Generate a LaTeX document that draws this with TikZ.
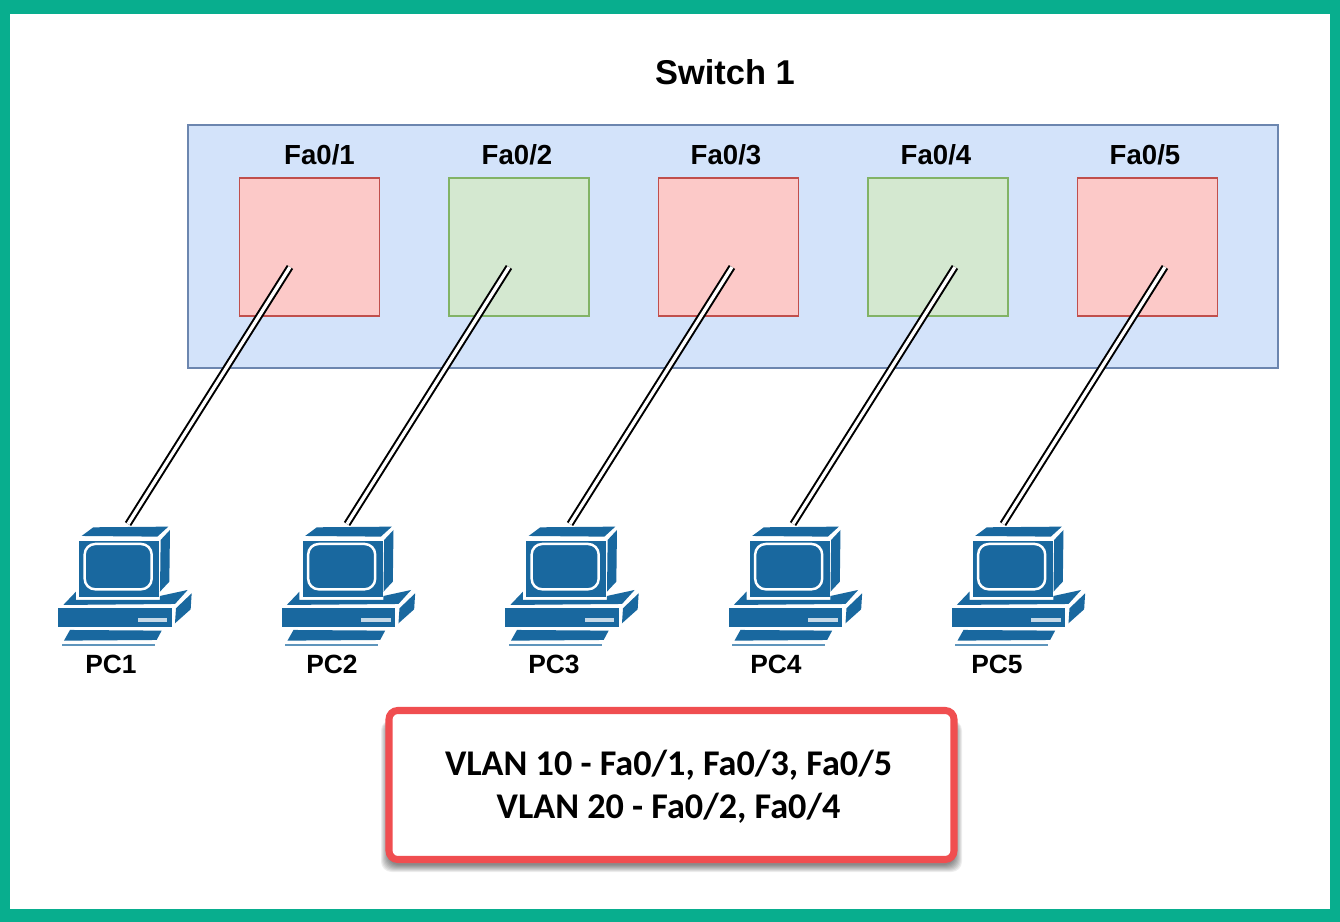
\documentclass[tikz,border=0pt]{standalone}
\usepackage{fontspec}
\setmainfont{Liberation Sans}
\newfontfamily\vlanfont{Carlito}
\definecolor{frameC}{HTML}{08AE8E}
\definecolor{switchF}{HTML}{D3E3FA}
\definecolor{switchD}{HTML}{6C86AF}
\definecolor{redF}{HTML}{FCC9C8}
\definecolor{redD}{HTML}{C04F4C}
\definecolor{greenF}{HTML}{D4E8D0}
\definecolor{greenD}{HTML}{82B366}
\definecolor{pcC}{HTML}{19689F}
\definecolor{noteD}{HTML}{F04E50}
\tikzset{
  px/.style={x=0.02cm,y=-0.02cm},
  switchbox/.style={draw=switchD,fill=switchF,line width=1pt,minimum width=1090*0.02cm,minimum height=243*0.02cm,inner sep=0pt},
  redport/.style={draw=redD,fill=redF,line width=1pt,minimum width=140*0.02cm,minimum height=138*0.02cm,inner sep=0pt},
  greenport/.style={draw=greenD,fill=greenF,line width=1pt,minimum width=140*0.02cm,minimum height=138*0.02cm,inner sep=0pt},
  portlabel/.style={font=\fontsize{15.7}{18}\selectfont\bfseries,text=black,inner sep=0pt},
  pclabel/.style={font=\fontsize{15}{18}\selectfont\bfseries,text=black,inner sep=0pt},
  title/.style={font=\fontsize{19.6}{22}\selectfont\bfseries,text=black,inner sep=0pt},
  cable/.style={draw=black,double=white,double distance=1.9pt,line width=1.15pt},
  note/.style={draw=noteD,fill=white,line width=4pt,rounded corners=5pt,minimum width=565*0.02cm,minimum height=149*0.02cm,inner sep=0pt},
  notetext/.style={align=center,inner sep=0pt,font=\vlanfont\fontsize{20.6}{24.6}\selectfont\bfseries,text=black},
  noteshadow/.style={fill=black,fill opacity=0.07,rounded corners=6pt},
}
\newcommand{\pcicon}[1]{% x offset
  \begin{scope}[shift={(#1,0)}]
    \begin{scope}[x=0.02cm/3,y=-0.02cm/3,shift={(120,1530)}]
      \fill[pcC] (125,78)--(160,52)--(385,50)--(352,80)--cycle;
      \fill[pcC] (362,90)--(390,60)--(388,215)--(360,245)--cycle;
      \fill[pcC] (118,92) rectangle (358,262);
      \draw[white,line width=1.4pt,rounded corners=6pt] (134,102) rectangle (335,238);
      \fill[pcC] (70,285)--(108,245)--(108,270)--(360,270)--(360,258)--(443,240)--(405,282)--cycle;
      \fill[pcC] (55,295) rectangle (395,352);
      \fill[white!75!pcC] (293,324) rectangle (382,336);
      \fill[pcC] (408,295)--(455,250)--(452,298)--(405,340)--cycle;
      \fill[pcC] (90,360)--(365,362)--(350,390)--(72,392)--cycle;
      \fill[pcC!70!white] (65,403) rectangle (345,407);
    \end{scope}
  \end{scope}
}
\begin{document}
\begin{tikzpicture}[px]
\useasboundingbox (0,0) rectangle (1340,922);
\fill[frameC] (0,0) rectangle (1340,922);
\fill[white] (10,14) rectangle (1330,909);

\node[title] (title) at (725,72) {Switch 1};
\node[switchbox] (switch) at (733,246.5) {};

\node[redport]   (p1) at (309.5,247) {};
\node[greenport] (p2) at (519,247) {};
\node[redport]   (p3) at (728.5,247) {};
\node[greenport] (p4) at (938,247) {};
\node[redport]   (p5) at (1147.5,247) {};
\node[portlabel] (l1) at (319.5,155) {Fa0/1};
\node[portlabel] (l2) at (517,155) {Fa0/2};
\node[portlabel] (l3) at (726,155) {Fa0/3};
\node[portlabel] (l4) at (936,155) {Fa0/4};
\node[portlabel] (l5) at (1145,155) {Fa0/5};

\pcicon{0}
\pcicon{223.5}
\pcicon{447}
\pcicon{670.5}
\pcicon{893.5}

\coordinate (e1) at (290,267);
\coordinate (e2) at (509,267);
\coordinate (e3) at (732,267);
\coordinate (e4) at (955,267);
\coordinate (e5) at (1165,267);
\coordinate (c1) at (128,524);
\coordinate (c2) at (347,524);
\coordinate (c3) at (570,524);
\coordinate (c4) at (793,524);
\coordinate (c5) at (1003,524);
\draw[cable] (e1) -- (c1);
\draw[cable] (e2) -- (c2);
\draw[cable] (e3) -- (c3);
\draw[cable] (e4) -- (c4);
\draw[cable] (e5) -- (c5);

\node[pclabel] (n1) at (111,664) {PC1};
\node[pclabel] (n2) at (332,664) {PC2};
\node[pclabel] (n3) at (554,664) {PC3};
\node[pclabel] (n4) at (776,664) {PC4};
\node[pclabel] (n5) at (997,664) {PC5};

\foreach \d in {0,1,...,7}{
  \fill[noteshadow] ({381+\d},{720}) rectangle ({962-\d},{872-\d});
}
\node[note] (note) at (671.5,785) {};
\node[notetext] (notelabel) at (668.5,787) {VLAN 10 - Fa0/1, Fa0/3, Fa0/5\\VLAN 20 - Fa0/2, Fa0/4};
\end{tikzpicture}
\end{document}
